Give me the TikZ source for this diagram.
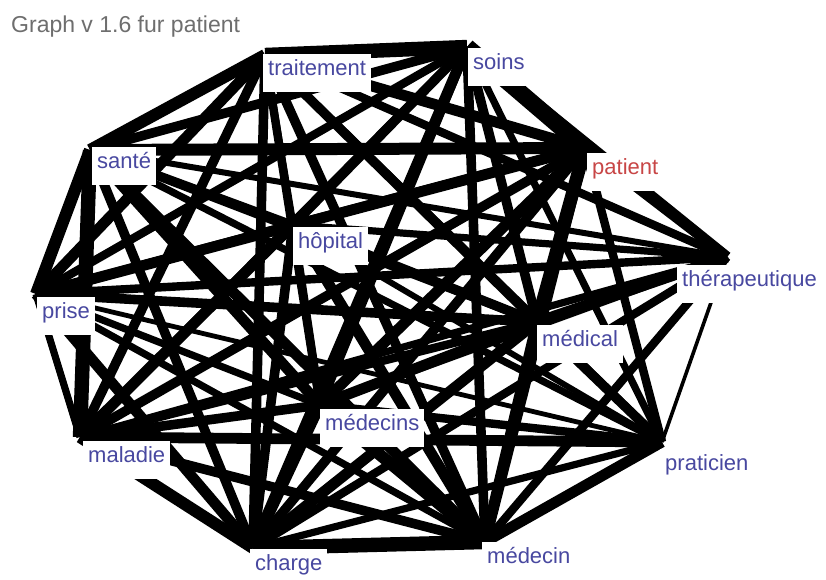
\documentclass[tikz,border=0pt]{standalone}
\usepackage{fontspec}
\setmainfont{Liberation Sans}
\definecolor{lblue}{RGB}{72,72,160}
\definecolor{lred}{RGB}{200,70,70}
\definecolor{tgray}{RGB}{110,110,110}
\begin{document}
\begin{tikzpicture}[x=1pt,y=-1pt,
  lbl/.style={fill=white,text=lblue,font=\fontsize{22}{26}\selectfont,inner xsep=5pt,inner ysep=0pt,
    minimum height=38pt,anchor=west,text height=0.72em,text depth=0.2em},
  edge/.style={draw=black}]
\useasboundingbox[fill=white] (0,0) rectangle (826,580);
\node[text=tgray,font=\fontsize{23}{27}\selectfont,anchor=west,inner sep=0pt] (title) at (11,27) {Graph v 1.6 fur patient};
\coordinate (T) at (265,55);
\coordinate (S) at (467,47);
\coordinate (Sa) at (90,150);
\coordinate (P) at (585,148);
\coordinate (H) at (293,225);
\coordinate (Th) at (727,257);
\coordinate (Pr) at (36,294);
\coordinate (Ml) at (537,322);
\coordinate (Ms) at (320,405);
\coordinate (Ma) at (80,437);
\coordinate (Pc) at (662,442);
\coordinate (C) at (253,548);
\coordinate (Md) at (485,542);
\foreach \a/\b/\w in {T/S/12,T/Sa/10,T/P/9,T/H/6,T/Th/7,T/Pr/9,T/Ml/8,T/Ms/7,T/Ma/8,T/Pc/7,T/C/8,T/Md/8,
  S/Sa/8,S/P/14,S/H/8,S/Th/9,S/Pr/7,S/Ml/8,S/Ms/8,S/Ma/7,S/Pc/6,S/C/9,S/Md/8,
  Sa/P/10,Sa/H/7,Sa/Th/5,Sa/Pr/10,Sa/Ml/7,Sa/Ms/9,Sa/Ma/12,Sa/Pc/6,Sa/C/8,Sa/Md/9,
  P/H/8,P/Th/8,P/Pr/9,P/Ml/11,P/Ms/9,P/Ma/8,P/Pc/7,P/C/8,P/Md/9,
  H/Th/6,H/Pr/8,H/Ml/8,H/Ms/7,H/Ma/9,H/Pc/5,H/C/8,H/Md/9,
  Th/Pr/7,Th/Ml/9,Th/Ms/6,Th/Ma/6,Th/Pc/3,Th/C/7,Th/Md/7,
  Pr/Ml/8,Pr/Ms/6,Pr/Ma/6,Pr/Pc/4,Pr/C/9,Pr/Md/6,
  Ml/Ms/9,Ml/Ma/7,Ml/Pc/8,Ml/C/9,Ml/Md/9,
  Ms/Ma/8,Ms/Pc/7,Ms/C/9,Ms/Md/10,
  Ma/Pc/9,Ma/C/10,Ma/Md/8,
  Pc/C/6,Pc/Md/9,
  C/Md/12}
  {\draw[edge,line width=1.2*\w pt] (\a) -- (\b);}
\node[lbl] (lT) at (263,73) {traitement};
\node[lbl] (lS) at (468,67) {soins};
\node[lbl] (lSa) at (92,166) {santé};
\node[lbl,text=lred] (lP) at (587,172) {patient};
\node[lbl] (lH) at (293,246) {hôpital};
\node[lbl] (lTh) at (677,284) {thérapeutique};
\node[lbl] (lPr) at (37,316) {prise};
\node[lbl] (lMl) at (537,344) {médical};
\node[lbl] (lMs) at (320,428) {médecins};
\node[lbl] (lMa) at (83,460) {maladie};
\node[lbl] (lPc) at (660,468) {praticien};
\node[lbl] (lC) at (250,568) {charge};
\node[lbl] (lMd) at (482,561) {médecin};
\end{tikzpicture}
\end{document}
